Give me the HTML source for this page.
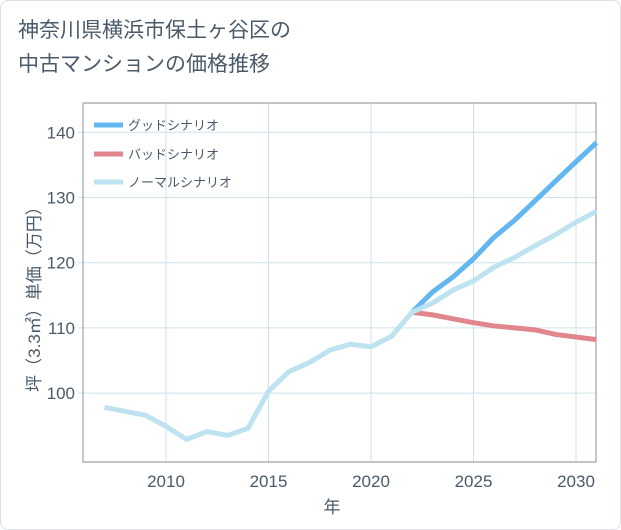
<!DOCTYPE html>
<html><head><meta charset="utf-8"><style>
html,body{margin:0;padding:0;background:#fff;}
body{width:621px;height:530px;overflow:hidden;font-family:"Liberation Sans","Noto Sans CJK JP",sans-serif;}
#card{position:absolute;left:0;top:0;width:619px;height:528px;border:1px solid #dde1e6;border-radius:8px;}
#title{position:absolute;left:18px;top:14px;font-size:21px;line-height:34px;color:#4a5a6a;}
</style></head><body>
<div id="card"></div>
<div id="title">神奈川県横浜市保土ヶ谷区の<br>中古マンションの価格推移</div>
<svg id="chart" width="621" height="530" style="position:absolute;left:0;top:0"></svg>
<script>
const years=[2007,2008,2009,2010,2011,2012,2013,2014,2015,2016,2017,2018,2019,2020,2021,2022,2023,2024,2025,2026,2027,2028,2029,2030,2031];
const normal=[97.8,97.2,96.6,94.9,92.9,94.1,93.5,94.6,100.3,103.3,104.7,106.6,107.5,107.1,108.7,112.4,113.8,115.8,117.2,119.3,120.8,122.6,124.3,126.2,127.9];
const futureYears=[2022,2023,2024,2025,2026,2027,2028,2029,2030,2031];
const good=[112.4,115.5,117.8,120.6,123.9,126.5,129.5,132.5,135.5,138.4];
const bad=[112.4,112.0,111.4,110.8,110.3,110.0,109.7,109.0,108.6,108.2];
const xTicks=[2010,2015,2020,2025,2030];
const yTicks=[100,110,120,130,140];
const L=83,R=596,T=103,B=462;
const x=v=>166+(v-2010)*20.5;
const y=v=>132.3+(140-v)*6.52;
const NS="http://www.w3.org/2000/svg",svg=document.getElementById('chart');
function mk(t,a,p){const e=document.createElementNS(NS,t);for(const k in a)e.setAttribute(k,a[k]);(p||svg).appendChild(e);return e;}
xTicks.forEach(v=>{
 const g=mk('line',{x1:x(v),x2:x(v),y1:T,y2:B,stroke:'#cfe0ec','stroke-width':1});
 
 
 const t=mk('text',{x:x(v),y:B+25,'text-anchor':'middle','font-size':17,fill:'#4a5a6a'});t.textContent=v;
 
 
});
yTicks.forEach(v=>{
 const g=mk('line',{x1:L-5,x2:R,y1:y(v),y2:y(v),stroke:'#cfe0ec','stroke-width':1});
 
 
 const t=mk('text',{x:L-8,y:y(v)+6,'text-anchor':'end','font-size':17,fill:'#4a5a6a'});t.textContent=v;
 
 
});
const ax=mk('path',{d:`M${L} ${T}V${B}H${R}V${T}H${L}`,fill:'none',stroke:'#9aa3ab','stroke-width':1.2});


function line(xs,vs,c,name){const p=mk('polyline',{points:xs.map((v,i)=>x(v)+','+y(vs[i])).join(' '),fill:'none',stroke:c,'stroke-width':5,'stroke-linejoin':'round'});
 
 }
line(futureYears,bad,'#e0868c','bad-scenario-line');
line(futureYears,good,'#62b7f0','good-scenario-line');
line(years,normal,'#bde2f0','normal-scenario-line');
const leg=[['グッドシナリオ','#62b7f0',125],['バッドシナリオ','#e0868c',154],['ノーマルシナリオ','#bde2f0',182]];
leg.forEach(l=>{
 const r=mk('line',{x1:94,x2:123,y1:l[2],y2:l[2],stroke:l[1],'stroke-width':5});
 
 
 const t=mk('text',{x:128,y:l[2]+5,'font-size':13,fill:'#4a5a6a'});t.textContent=l[0];
 
 
});
const xt=mk('text',{x:332,y:513,'text-anchor':'middle','font-size':17,fill:'#4a5a6a'});xt.textContent='年';


const yt=mk('text',{x:0,y:0,'text-anchor':'middle','font-size':17,fill:'#4a5a6a',transform:'translate(40,295) rotate(-90)'});yt.textContent='坪（3.3㎡）単価（万円）';


</script>
</body></html>
